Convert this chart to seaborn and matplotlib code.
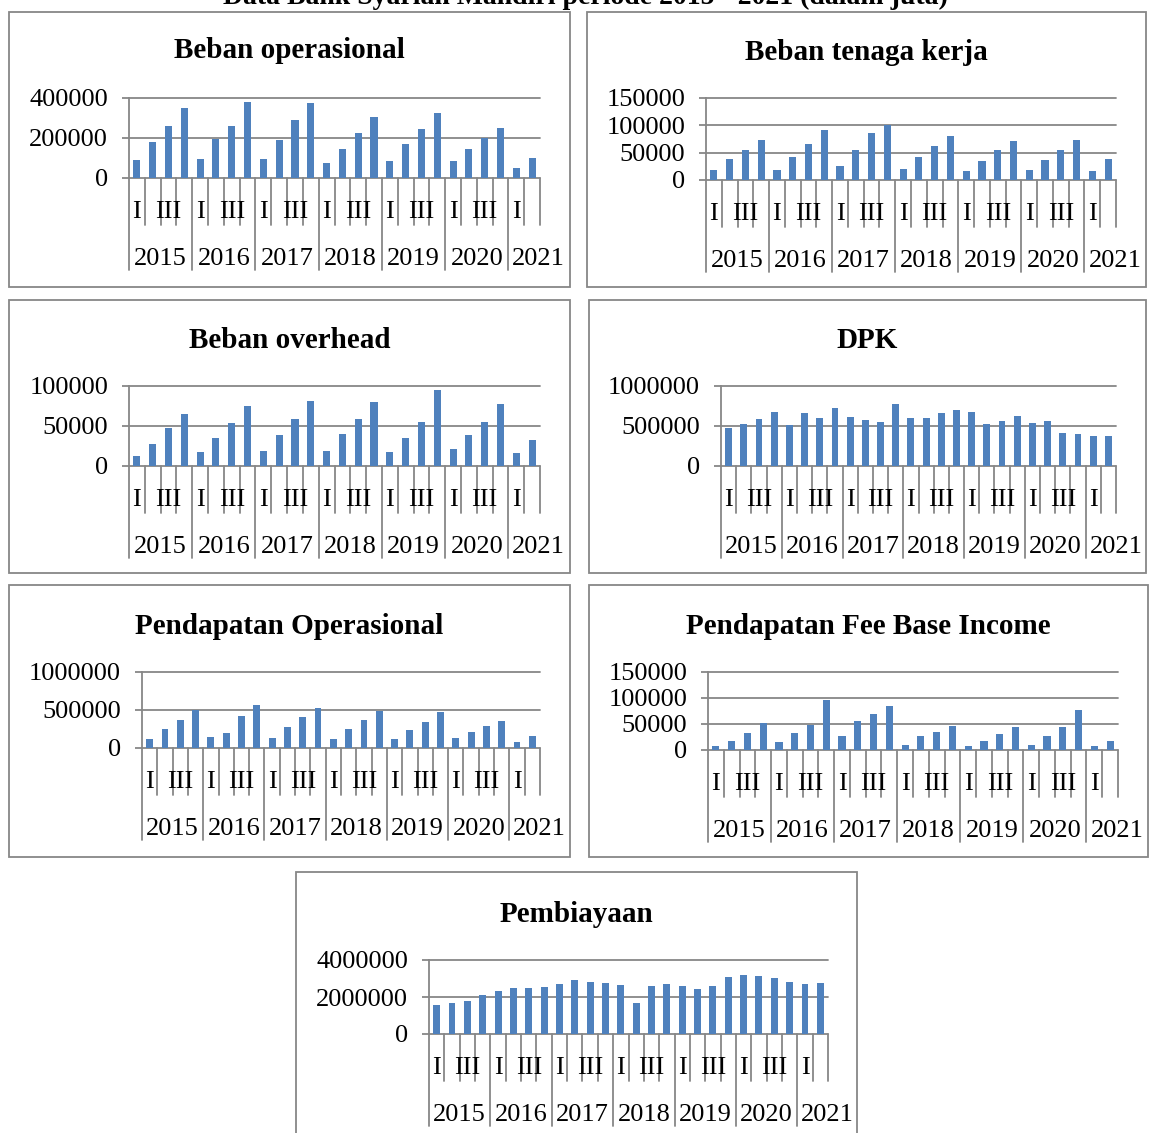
import matplotlib
matplotlib.use("Agg")
import matplotlib.pyplot as plt
import matplotlib.transforms as mtransforms
from matplotlib.patches import Rectangle
import pandas as pd
import seaborn as sns

# ---- data (quarterly, 2015-I .. 2021-II, in million rupiah) ----
years = ["2015", "2016", "2017", "2018", "2019", "2020", "2021"]
quarters = ["I", "II", "III", "IV"]

beban_operasional = [88500, 179000, 262000, 349000, 95000, 194000, 260000, 380000,
                     95000, 189000, 288000, 375000, 73000, 146000, 223000, 303000,
                     83000, 169000, 245000, 327000, 87000, 146000, 201000, 250000,
                     48000, 99000]
beban_tenaga_kerja = [18000, 39000, 54000, 72500, 19000, 42000, 66000, 91000,
                      26000, 55000, 86000, 101000, 21000, 42500, 62500, 81000,
                      16000, 34000, 54000, 72000, 18000, 36000, 55000, 74000,
                      17000, 39000]
beban_overhead = [13000, 27500, 47000, 65000, 17000, 35000, 54000, 74600,
                  19000, 39000, 59000, 81000, 18600, 40000, 59000, 80500,
                  18000, 35000, 55500, 95000, 21000, 38600, 55500, 78000,
                  16500, 33000]
dpk = [470000, 520000, 584000, 680000, 512000, 660000, 596000, 731000,
       613000, 571000, 546000, 773000, 596000, 596000, 668000, 701000,
       680000, 529000, 563000, 630000, 538000, 559000, 407000, 399000,
       374000, 374000]
pendapatan_operasional = [124000, 249000, 373000, 502000, 142000, 197000, 425000, 571000,
                          137000, 270000, 408000, 528000, 120000, 249000, 369000, 489000,
                          116000, 232000, 339000, 472000, 129000, 210000, 283000, 356000,
                          82000, 163000]
fee_base_income = [7000, 17000, 32000, 52000, 15500, 32000, 48000, 97000,
                   27000, 55000, 70000, 84000, 10000, 27000, 35000, 46000,
                   7000, 17400, 30000, 45000, 9000, 26000, 44000, 77000,
                   8400, 17400]
pembiayaan = [1590000, 1700000, 1810000, 2100000, 2300000, 2460000, 2480000, 2530000,
              2710000, 2910000, 2790000, 2750000, 2640000, 1670000, 2590000, 2700000,
              2590000, 2440000, 2620000, 3080000, 3170000, 3110000, 3020000, 2820000,
              2700000, 2750000]

periods = [f"{y}-{q}" for y in years[:-1] for q in quarters] + ["2021-I", "2021-II"]

W, H = 1152, 1133
BAR = "#4F81BD"
GRID = "#878787"
SERIF = ["Liberation Serif", "DejaVu Serif"]

sns.set_theme(style="white")
plt.rcParams["font.family"] = SERIF
plt.rcParams["text.color"] = "black"

fig = plt.figure(figsize=(W / 100, H / 100), dpi=100)

# (title, values, y ticks, axes box l,r,t,b in px, frame box x0,y0,x1,y1, title y)
panels = [
    ("Beban operasional", beban_operasional, [0, 200000, 400000],
     (129, 540, 98, 178), (9, 12, 570, 287), 49),
    ("Beban tenaga kerja", beban_tenaga_kerja, [0, 50000, 100000, 150000],
     (706, 1116, 98, 180), (587, 12, 1146, 287), 50),
    ("Beban overhead", beban_overhead, [0, 50000, 100000],
     (129, 540, 386, 466), (9, 300, 570, 573), 338),
    ("DPK", dpk, [0, 500000, 1000000],
     (721, 1116, 386, 466), (589, 300, 1146, 573), 338),
    ("Pendapatan Operasional", pendapatan_operasional, [0, 500000, 1000000],
     (142, 540, 672, 748), (9, 585, 570, 857), 624),
    ("Pendapatan Fee Base Income", fee_base_income, [0, 50000, 100000, 150000],
     (708, 1118, 672, 750), (589, 585, 1148, 857), 624),
    ("Pembiayaan", pembiayaan, [0, 2000000, 4000000],
     (429, 828, 960, 1034), (296, 872, 857, 1140), 912),
]

FS = 19

for title, values, ticks, (l, r, t, b), (fx0, fy0, fx1, fy1), ty in panels:
    # panel frame
    fig.patches.append(Rectangle((fx0 / W, 1 - fy1 / H), (fx1 - fx0) / W, (fy1 - fy0) / H,
                                 transform=fig.transFigure, fill=False,
                                 edgecolor=GRID, linewidth=1.3, zorder=0))
    fig.text((fx0 + fx1) / 2 / W, 1 - (ty + 2) / H, title, ha="center", va="center",
             fontsize=21, fontweight="bold", family=SERIF, color="black")

    ax = fig.add_axes([l / W, 1 - b / H, (r - l) / W, (b - t) / H])
    df = pd.DataFrame({"periode": periods, "nilai": values})
    sns.barplot(data=df, x="periode", y="nilai", order=periods, color=BAR,
                saturation=1, width=0.45, errorbar=None, linewidth=0, ax=ax)

    ax.set_xlim(-0.5, len(periods) - 0.5)
    ax.set_ylim(0, ticks[-1])
    ax.set_yticks(ticks)
    ax.set_yticklabels([str(v) for v in ticks], fontsize=FS, family=SERIF,
                       color="black")
    ax.set_xticks([])
    ax.set_xlabel("")
    ax.set_ylabel("")
    ax.set_facecolor("none")
    for side in ("top", "right", "bottom"):
        ax.spines[side].set_visible(False)
    ax.spines["left"].set_color(GRID)
    ax.spines["left"].set_linewidth(1.3)
    ax.yaxis.grid(True, color=GRID, linewidth=1.3)
    ax.set_axisbelow(True)
    ax.tick_params(axis="y", left=True, length=5, width=1.3, color=GRID, pad=10,
                   labelcolor="black")
    for gl in ax.get_ygridlines():
        gl.set_clip_on(False)

    # two-level category axis: quarter row and year row
    hpx = b - t
    trans = mtransforms.blended_transform_factory(ax.transData, ax.transAxes)
    short_len, long_len = 47 / hpx, 92 / hpx
    q_y, y_y = 34 / hpx, 81 / hpx
    n = len(periods)
    for i in range(n + 1):
        x = i - 0.5
        is_year_edge = (i % 4 == 0) and i < n
        length = long_len if is_year_edge else short_len
        ax.plot([x, x], [0, -length], transform=trans, color=GRID,
                linewidth=1.3, clip_on=False)
    for i, p in enumerate(periods):
        q = p.split("-")[1]
        if q in ("I", "III"):
            ax.text(i, -q_y, q, transform=trans, ha="center", va="center",
                    fontsize=FS, family=SERIF, color="black")
    for k, yr in enumerate(years):
        if yr == "2021":
            ax.text(4 * k - 0.5 + 0.25, -y_y, yr, transform=trans, ha="left",
                    va="center", fontsize=FS, family=SERIF, color="black")
        else:
            ax.text(4 * k + 1.5, -y_y, yr, transform=trans, ha="center",
                    va="center", fontsize=FS, family=SERIF, color="black")

fig.text(585 / W, 1 - 4 / H,
         "Data Bank Syariah Mandiri periode 2015 - 2021 (dalam juta)",
         ha="center", va="baseline", fontsize=20, fontweight="bold",
         family=SERIF, color="black")

fig.savefig("out.png", dpi=100, facecolor="white")
